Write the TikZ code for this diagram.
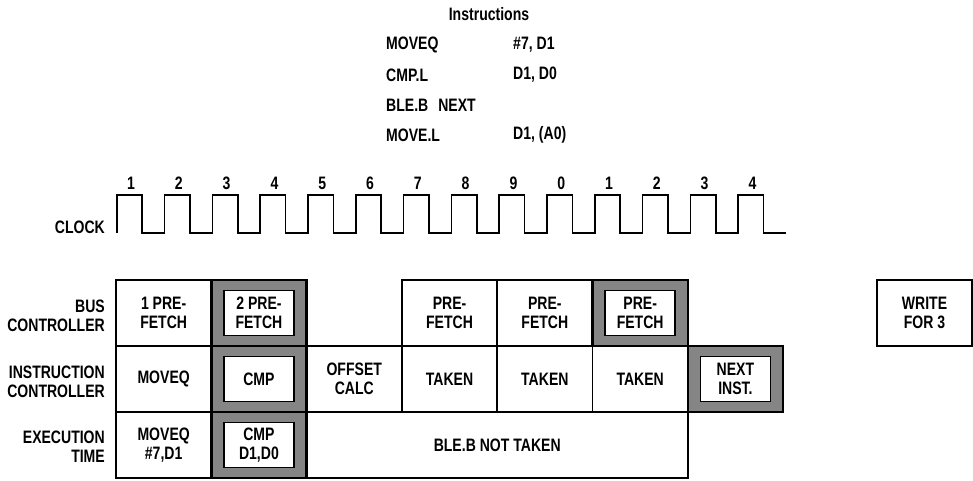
\documentclass[tikz,border=0pt]{standalone}
\usepackage{fontspec}
\setmainfont{Liberation Sans}[FakeStretch=0.78]
\usetikzlibrary{positioning}
\definecolor{myshade}{gray}{0.52}

\begin{document}
\begin{tikzpicture}[
    x=1pt, y=-1pt,
    every node/.style={font=\bfseries\fontsize{18}{19}\selectfont},
    cell/.style={
        draw,
        line width=1.6pt,
        minimum width=95.3pt,
        minimum height=66pt,
        align=center,
        inner sep=0pt,
        outer sep=0pt,
        node distance=0pt
    },
    blankcell/.style={cell, draw=none},
    shadecell/.style={cell, fill=myshade, line width=2.6pt},
    widecell/.style={cell, minimum width=381.2pt},
    innerbox/.style={draw, fill=white, line width=1.6pt, align=center,
        minimum width=70pt, minimum height=45pt, inner sep=0pt},
    rowlabel/.style={anchor=east, align=right, inner sep=0pt},
    instr/.style={anchor=west, inner sep=0pt}
]
\useasboundingbox (0,0) rectangle (973,480);

% instruction listing
\node (title) at (489,14) {Instructions};
\node[instr] (op1) at (386,45) {MOVEQ};
\node[instr] (arg1) at (513,45) {\#7, D1};
\node[instr] (op2) at (386,75) {CMP.L};
\node[instr] (arg2) at (513,75) {D1, D0};
\node[instr] (op3) at (386,105) {BLE.B\hspace{10pt}NEXT};
\node[instr] (op4) at (386,135) {MOVE.L};
\node[instr] (arg4) at (513,135) {D1, (A0)};

% clock
\node[rowlabel] (clk) at (105,227) {CLOCK};
\draw[line width=1.6pt] (116.7,233)
    \foreach \k in {1,...,14} { -- ++(0,-38) -- ++(25.5,0) -- ++(0,38) -- ++(22.3,0) };
\foreach \d [count=\i from 0] in {1,2,3,4,5,6,7,8,9,0,1,2,3,4}
    \node (tick\i) at (131+47.8*\i,183) {\d};

% row labels
\node[rowlabel] (buslbl) at (105,316) {BUS\\CONTROLLER};
\node[rowlabel] (instlbl) at (105,382) {INSTRUCTION\\CONTROLLER};
\node[rowlabel] (exlbl) at (105,447) {EXECUTION\\TIME};

% bus controller
\node[cell, anchor=north west] (pf1) at (116,280) {1 PRE-\\FETCH};
\node[shadecell, right=of pf1] (pf2) {};
\node[innerbox] (pf2in) at (pf2) {2 PRE-\\FETCH};
\node[blankcell, right=of pf2] (gap1) {};
\node[cell, right=of gap1] (pf3) {PRE-\\FETCH};
\node[cell, right=of pf3] (pf4) {PRE-\\FETCH};
\node[shadecell, right=of pf4] (pf5) {};
\node[innerbox] (pf5in) at (pf5) {PRE-\\FETCH};
\node[cell] (write) at (924.5,313) {WRITE\\FOR 3};

% instruction controller
\node[cell, below=of pf1] (ic1) {MOVEQ};
\node[shadecell, right=of ic1] (ic2) {};
\node[innerbox] (ic2in) at (ic2) {CMP};
\node[cell, right=of ic2] (ic3) {OFFSET\\CALC};
\node[cell, right=of ic3] (ic4) {TAKEN};
\node[cell, right=of ic4] (ic5) {TAKEN};
\node[cell, right=of ic5] (ic6) {TAKEN};
\node[shadecell, right=of ic6] (ic7) {};
\node[innerbox] (ic7in) at (ic7) {NEXT\\INST.};

% execution time
\node[cell, below=of ic1] (ex1) {MOVEQ\\\#7,D1};
\node[shadecell, right=of ex1] (ex2) {};
\node[innerbox] (ex2in) at (ex2) {CMP\\D1,D0};
\node[widecell, right=of ex2] (ex3) {BLE.B NOT TAKEN};

\end{tikzpicture}
\end{document}
